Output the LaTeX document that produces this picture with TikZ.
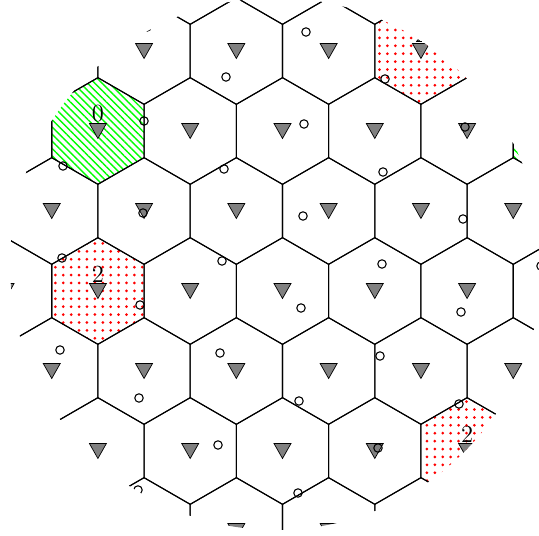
\documentclass[tikz,border=0pt]{standalone}
\usetikzlibrary{patterns.meta}

\begin{document}
\begin{tikzpicture}[
        x=0.02cm, y=-0.02cm,
        edge/.style={draw=black, line width=0.6pt},
        bs/.style={draw=black, fill=gray, line width=0.4pt},
        ue/.style={draw=black, line width=0.6pt},
        reuse0/.style={pattern={Lines[angle=-45, distance=2.9pt, line width=0.8pt]}, pattern color=green},
        reuse2/.style={pattern={Dots[distance=4.5pt, radius=0.85pt]}, pattern color=red},
        cellno/.style={inner sep=0pt, font=\fontsize{14}{14}\selectfont}
    ]
    \useasboundingbox (0,0) rectangle (539,536);
    \clip (276,264) circle[radius=5.32cm];
    \foreach \sx/\sy/\pat in {97.9/131/reuse0, 559.4/131/reuse0, 97.9/291/reuse2, 421/51/reuse2, 467.1/451/reuse2}
        \path[\pat] (\sx,\sy) +(30:53.3) -- +(90:53.3) -- +(150:53.3) -- +(210:53.3) -- +(270:53.3) -- +(330:53.3) -- cycle;
    \foreach \r in {-1,...,7}
        \foreach \k in {-1,...,6} {
            \pgfmathsetmacro\sx{5.6+92.3*\k+46.15*mod(\r+1,2)}
            \pgfmathsetmacro\sy{51+80*\r}
            \draw[edge] (\sx,\sy) +(30:53.3) -- +(90:53.3) -- +(150:53.3) -- +(210:53.3) -- +(270:53.3) -- +(330:53.3) -- cycle;
            \draw[bs] (\sx-8.5,\sy-7.5) -- (\sx+8.5,\sy-7.5) -- (\sx,\sy+7.5) -- cycle;
        }
    \foreach \ux/\uy in {147/27, 226/77, 306/32, 385/79, 465/127, 144/121, 304/124, 63/166, 224/169, 383/172,
                         143/213, 303/216, 463/219, 62/258, 222/261, 382/264, 541/266, 140/305, 301/308, 461/312,
                         60/350, 220/353, 380/356, 139/398, 299/401, 459/404, 218/445, 378/448, 138/490, 298/493}
        \draw[ue] (\ux,\uy) circle[radius=2.4pt];
    \node[cellno] (no0a) at (97.9,114) {0};
    \node[cellno] (no2a) at (97.9,274) {2};
    \node[cellno] (no2b) at (421,34) {2};
    \node[cellno] (no2c) at (467.1,434) {2};
\end{tikzpicture}
\end{document}
